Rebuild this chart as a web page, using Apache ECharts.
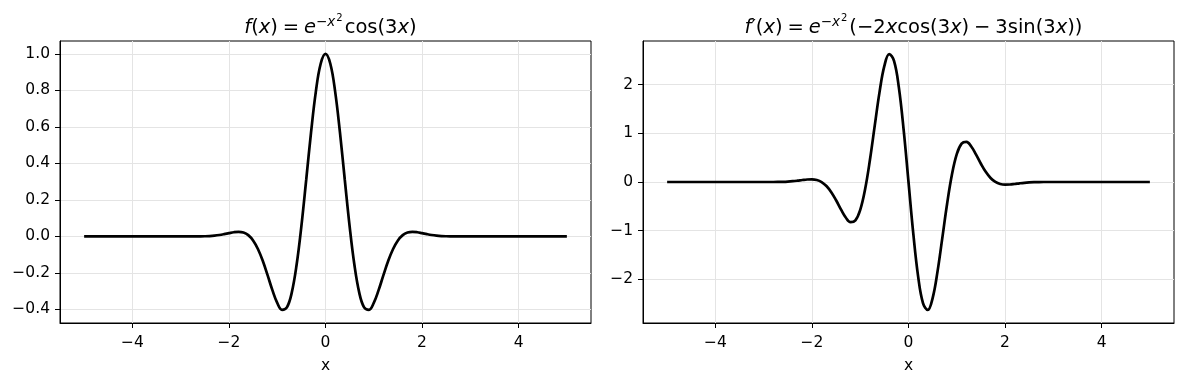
<!DOCTYPE html>
<html><head><meta charset="utf-8">
<script src="https://cdn.jsdelivr.net/npm/echarts@6/dist/echarts.min.js"></script>
<style>html,body{margin:0;padding:0;background:#fff}#c{width:1183px;height:384px}</style>
</head><body><div id="c"></div>
<script>
const xs = [-5, -4.5, -4, -3.5,
  -3.0, -2.9, -2.8, -2.7, -2.6, -2.5, -2.4, -2.3, -2.2, -2.1,
  -2.0, -1.9, -1.8, -1.7, -1.6, -1.5, -1.4, -1.3, -1.2, -1.1,
  -1.0, -0.9, -0.8, -0.7, -0.6, -0.5, -0.4, -0.3, -0.2, -0.1,
  0.0, 0.1, 0.2, 0.3, 0.4, 0.5, 0.6, 0.7, 0.8, 0.9,
  1.0, 1.1, 1.2, 1.3, 1.4, 1.5, 1.6, 1.7, 1.8, 1.9,
  2.0, 2.1, 2.2, 2.3, 2.4, 2.5, 2.6, 2.7, 2.8, 2.9, 3.0,
  3.5, 4, 4.5, 5];
const fVals = [0, 0, 0, 0,
  -0.0001, -0.0002, -0.0002, -0.0002, 0.0001, 0.0007, 0.0019, 0.0041, 0.0075, 0.0122,
  0.0176, 0.0226, 0.0249, 0.0210, 0.0068, -0.0222, -0.0691, -0.1339, -0.2125, -0.2945,
  -0.3642, -0.4022, -0.3888, -0.3093, -0.1585, 0.0551, 0.3088, 0.5681, 0.7930, 0.9458,
  1.0, 0.9458, 0.7930, 0.5681, 0.3088, 0.0551, -0.1585, -0.3093, -0.3888, -0.4022,
  -0.3642, -0.2945, -0.2125, -0.1339, -0.0691, -0.0222, 0.0068, 0.0210, 0.0249, 0.0226,
  0.0176, 0.0122, 0.0075, 0.0041, 0.0019, 0.0007, 0.0001, -0.0002, -0.0002, -0.0002, -0.0001,
  0, 0, 0, 0];
const dfVals = [0, 0, 0, 0,
  0.0, -0.0001, -0.0001, 0.0011, 0.0038, 0.0088, 0.0167, 0.0277, 0.0404, 0.0517,
  0.0550, 0.0411, -0.0013, -0.0829, -0.2094, -0.3758, -0.5617, -0.7290, -0.8245, -0.7890,
  -0.5727, -0.1536, 0.4464, 1.1535, 1.8481, 2.3856, 2.6297, 2.4886, 1.9447, 1.0669,
  0.0, -1.0669, -1.9447, -2.4886, -2.6297, -2.3856, -1.8481, -1.1535, -0.4464, 0.1536,
  0.5727, 0.7890, 0.8245, 0.7290, 0.5617, 0.3758, 0.2094, 0.0829, 0.0013, -0.0411,
  -0.0550, -0.0517, -0.0404, -0.0277, -0.0167, -0.0088, -0.0038, -0.0011, 0.0001, 0.0001, 0.0,
  0, 0, 0, 0];
const xTicks = [-4, -2, 0, 2, 4];
const fTicks = [-0.4, -0.2, 0.0, 0.2, 0.4, 0.6, 0.8, 1.0];
const dfTicks = [-2, -1, 0, 1, 2];
const xLabel = 'x';

const FONT = 'DejaVu Sans';
const minus = s => s.replace(/-/g, '\u2212');
const chart = echarts.init(document.getElementById('c'), null, {renderer: 'canvas'});

function xAxis(gi) {
  return {
    type: 'value', gridIndex: gi, min: -5.5, max: 5.5,
    name: xLabel, nameLocation: 'middle', nameGap: 35,
    nameTextStyle: {fontFamily: FONT, fontSize: 15.5, color: '#000'},
    axisLine: {show: true, onZero: false, lineStyle: {color: '#000', width: 1}},
    axisTick: {show: true, length: 5, lineStyle: {color: '#000', width: 1}, customValues: xTicks},
    axisLabel: {fontFamily: FONT, fontSize: 15.5, color: '#000', margin: 12, customValues: xTicks,
      formatter: v => minus(String(v))},
    splitLine: {show: true, lineStyle: {color: '#e4e4e4', width: 1}}
  };
}
function yAxis(gi, ticks, mn, mx, dec) {
  return {
    type: 'value', gridIndex: gi, min: mn, max: mx,
    axisLine: {show: true, onZero: false, lineStyle: {color: '#000', width: 1}},
    axisTick: {show: true, length: 5, lineStyle: {color: '#000', width: 1}, customValues: ticks},
    axisLabel: {fontFamily: FONT, fontSize: 15.5, color: '#000', margin: 10, customValues: ticks,
      formatter: v => minus(Number(v).toFixed(dec))},
    splitLine: {show: true, lineStyle: {color: '#e4e4e4', width: 1}}
  };
}
const base = {fontFamily: FONT, color: '#000', fontWeight: 'normal', lineHeight: 30, verticalAlign: 'bottom'};
const rich = {
  n: Object.assign({}, base, {fontSize: 19.5}),
  i: Object.assign({}, base, {fontSize: 19.5, fontStyle: 'italic'}),
  s: Object.assign({}, base, {fontSize: 13.5, padding: [0, 0, 9, 0]}),
  si: Object.assign({}, base, {fontSize: 13.5, fontStyle: 'italic', padding: [0, 0, 9, 0]}),
  ss: Object.assign({}, base, {fontSize: 10, padding: [0, 2, 15, 1]})
};
const sp = '\u2005';
const t1 = '{i|f}{n|(}{i|x}{n|)' + sp + '=' + sp + '}{i|e}{s|\u2212}{si|x}{ss|2}{n|cos(3}{i|x}{n|)}';
const t2 = '{i|f}{n|\u2032(}{i|x}{n|)' + sp + '=' + sp + '}{i|e}{s|\u2212}{si|x}{ss|2}{n|(\u22122}{i|x}{n|cos(3}{i|x}{n|)' + sp + '\u2212' + sp + '3sin(3}{i|x}{n|))}';

chart.setOption({
  backgroundColor: '#fff',
  animation: false,
  title: [
    {text: t1, left: 325.5, top: 3, textAlign: 'center', textStyle: {fontWeight: 'normal', rich}},
    {text: t2, left: 908.5, top: 3, textAlign: 'center', textStyle: {fontWeight: 'normal', rich}}
  ],
  grid: [
    {left: 60, top: 41, width: 531, height: 282, show: true, borderColor: '#000', borderWidth: 1, backgroundColor: 'transparent'},
    {left: 643, top: 41, width: 531, height: 282, show: true, borderColor: '#000', borderWidth: 1, backgroundColor: 'transparent'}
  ],
  xAxis: [xAxis(0), xAxis(1)],
  yAxis: [yAxis(0, fTicks, -0.4745, 1.0702, 1), yAxis(1, dfTicks, -2.8985, 2.8985, 0)],
  series: [
    {type: 'line', xAxisIndex: 0, yAxisIndex: 0, data: xs.map((x, i) => [x, fVals[i]]),
      showSymbol: false, smooth: 0.4, lineStyle: {color: '#000', width: 2.7}},
    {type: 'line', xAxisIndex: 1, yAxisIndex: 1, data: xs.map((x, i) => [x, dfVals[i]]),
      showSymbol: false, smooth: 0.4, lineStyle: {color: '#000', width: 2.7}}
  ]
});
</script>
</body></html>
